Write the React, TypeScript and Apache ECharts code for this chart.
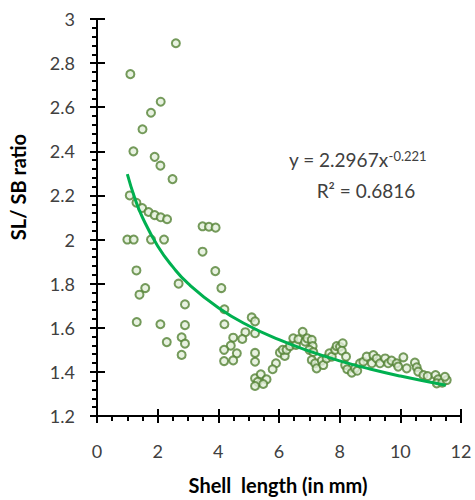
import { useEffect, useRef } from "react"
import * as echarts from "echarts"

// shell length (mm) and SL/SB ratio
const shellLength = [
  2.6, 1.1, 2.1, 1.78, 1.5, 1.2, 1.9, 2.09, 2.49, 1.08, 1.3, 1.49, 1.7, 1.9, 2.1, 2.31,
  1.0, 1.21, 1.78, 2.21, 1.3, 1.59, 1.4, 2.69, 2.9, 1.31, 2.09, 2.9, 2.3, 2.79, 2.9, 2.79,
  3.48, 3.69, 3.91, 3.48, 3.9, 4.1, 4.2, 4.2, 5.1, 5.21, 4.89, 4.79, 4.49, 5.21, 4.41, 4.19,
  4.61, 4.49, 4.19, 5.21, 5.21, 5.9, 5.79, 5.21, 5.4, 5.59, 5.3, 5.48, 5.21,
  6.03, 6.19, 6.12, 6.25, 6.36, 6.47, 6.56, 6.64, 6.78, 6.86, 6.93, 7.08, 7.11, 7.0, 7.13,
  7.08, 7.19, 7.24, 7.41, 7.46, 7.57, 7.66, 7.74, 7.85, 7.9, 8.01, 8.1, 8.07, 8.21, 8.18,
  8.25, 8.4, 8.51, 8.58, 8.67, 8.78, 8.89, 9.06, 9.11, 9.22, 9.33, 9.5, 9.6, 9.71, 9.88,
  9.93, 10.1, 10.21, 10.48, 10.54, 10.59, 10.76, 10.9, 11.16, 11.25, 11.2, 11.38, 11.53, 11.47,
]
const ratio = [
  2.89, 2.75, 2.625, 2.575, 2.5, 2.4, 2.375, 2.335, 2.274, 2.2, 2.167, 2.143, 2.125, 2.111, 2.101, 2.092,
  2.0, 2.0, 2.0, 2.0, 1.86, 1.78, 1.75, 1.8, 1.706, 1.626, 1.616, 1.612, 1.535, 1.557, 1.528, 1.477,
  2.06, 2.058, 2.054, 1.945, 1.857, 1.78, 1.684, 1.616, 1.647, 1.629, 1.58, 1.549, 1.555, 1.575, 1.519, 1.5,
  1.484, 1.452, 1.449, 1.486, 1.446, 1.439, 1.412, 1.371, 1.389, 1.366, 1.355, 1.345, 1.336,
  1.487, 1.472, 1.5, 1.5, 1.517, 1.552, 1.522, 1.548, 1.582, 1.537, 1.552, 1.545, 1.517, 1.5, 1.49,
  1.454, 1.439, 1.416, 1.451, 1.431, 1.461, 1.484, 1.469, 1.5, 1.517, 1.514, 1.53, 1.496, 1.469, 1.431,
  1.412, 1.396, 1.416, 1.405, 1.439, 1.446, 1.469, 1.439, 1.476, 1.461, 1.439, 1.461, 1.439, 1.451, 1.439,
  1.424, 1.466, 1.416, 1.442, 1.421, 1.401, 1.386, 1.381, 1.386, 1.366, 1.348, 1.351, 1.363, 1.378,
]

// power trendline, sampled along the drawn curve
const trendX = [1, 1.25, 1.5, 2, 2.5, 3, 4, 5, 6, 7, 8, 9, 10, 11.5]
const trendY = [2.297, 2.186, 2.1, 1.971, 1.876, 1.801, 1.691, 1.609, 1.546, 1.494, 1.45, 1.413, 1.381, 1.339]

const equationText = "y = 2.2967x"
const exponentText = "-0.221"
const r2Text = "R\u00b2 = 0.6816"

const FONT = "Lato, 'Open Sans', sans-serif"

export default function App() {
  const chartRef = useRef<HTMLDivElement>(null)

  useEffect(() => {
    if (!chartRef.current) return
    const chart = echarts.init(chartRef.current, undefined, { renderer: "svg" })

    const labelStyle = { color: "#404040", fontSize: 18, fontFamily: FONT }

    const option: echarts.EChartsOption = {
      animation: false,
      backgroundColor: "#fff",
      grid: { left: 97, right: 14, top: 19, bottom: 84 },
      xAxis: [
        {
          type: "value",
          min: 0,
          max: 12,
          interval: 2,
          position: "bottom",
          splitLine: { show: false },
          axisLine: { show: true, lineStyle: { color: "#000", width: 2 } },
          axisTick: { show: true, length: 7, lineStyle: { color: "#000", width: 2 } },
          minorTick: { show: true, splitNumber: 4, length: 5, lineStyle: { color: "#000", width: 2 } },
          axisLabel: { ...labelStyle, margin: 26 },
        },
        {
          // inner half of the major ticks, so they cross the axis
          type: "value",
          min: 0,
          max: 12,
          interval: 2,
          position: "bottom",
          splitLine: { show: false },
          axisLine: { show: false },
          axisTick: { show: true, inside: true, length: 7, lineStyle: { color: "#000", width: 2 } },
          axisLabel: { show: false },
        },
      ],
      yAxis: [
        {
          type: "value",
          min: 1.2,
          max: 3,
          interval: 0.2,
          position: "left",
          splitLine: { show: false },
          axisLine: { show: true, lineStyle: { color: "#000", width: 2 } },
          axisTick: { show: true, length: 7, lineStyle: { color: "#000", width: 2 } },
          minorTick: { show: true, splitNumber: 5, length: 5, lineStyle: { color: "#000", width: 2 } },
          axisLabel: {
            ...labelStyle,
            margin: 22,
            formatter: (v: number) => String(Math.round(v * 10) / 10),
          },
        },
        {
          type: "value",
          min: 1.2,
          max: 3,
          interval: 0.2,
          position: "left",
          splitLine: { show: false },
          axisLine: { show: false },
          axisTick: { show: true, inside: true, length: 8, lineStyle: { color: "#000", width: 2 } },
          axisLabel: { show: false },
        },
      ],
      series: [
        {
          type: "scatter",
          data: shellLength.map((x, i) => [x, ratio[i]]),
          symbol: "circle",
          symbolSize: 8,
          itemStyle: { color: "#e2efda", borderColor: "#548235", borderWidth: 2 },
          z: 2,
        },
        {
          type: "line",
          data: trendX.map((x, i) => [x, trendY[i]]),
          smooth: true,
          showSymbol: false,
          lineStyle: { color: "#00b050", width: 3 },
          z: 3,
        },
      ],
      graphic: [
        {
          type: "text",
          x: 18,
          y: 187,
          rotation: Math.PI / 2,
          style: {
            text: "SL/ SB ratio",
            fill: "#000",
            font: `bold 20px ${FONT}`,
            textAlign: "center",
            textVerticalAlign: "middle",
          },
        },
        {
          type: "text",
          x: 278,
          y: 485,
          style: {
            text: "Shell  length (in mm)",
            fill: "#000",
            font: `bold 20px ${FONT}`,
            textAlign: "center",
            textVerticalAlign: "middle",
          },
        },
        {
          type: "text",
          x: 289,
          y: 159,
          style: {
            text: `{m|${equationText}}{s|${exponentText}}`,
            textAlign: "left",
            textVerticalAlign: "middle",
            rich: {
              m: { fill: "#404040", fontSize: 19, fontFamily: FONT, verticalAlign: "bottom" },
              s: { fill: "#404040", fontSize: 13, fontFamily: FONT, verticalAlign: "top" },
            },
          },
        },
        {
          type: "text",
          x: 366,
          y: 190,
          style: {
            text: r2Text,
            fill: "#404040",
            font: `19px ${FONT}`,
            textAlign: "center",
            textVerticalAlign: "middle",
          },
        },
      ],
    }

    chart.setOption(option)

    return () => {
      chart.dispose()
    }
  }, [])

  return <div ref={chartRef} style={{ position: "fixed", left: 0, top: 0, width: 475, height: 500 }} />
}
